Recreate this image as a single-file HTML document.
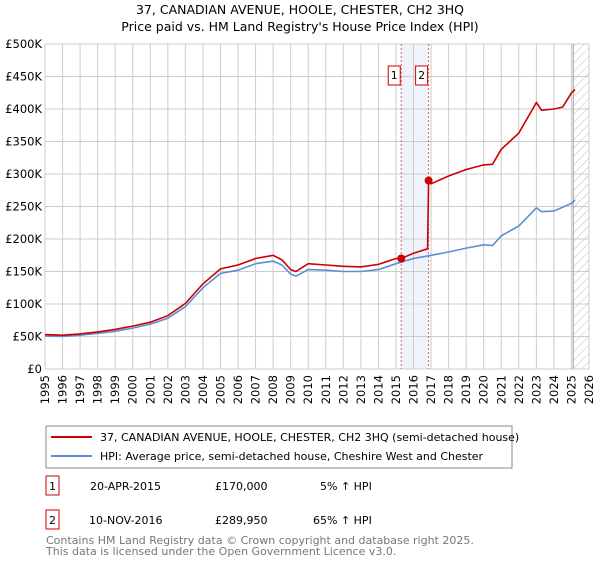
<!DOCTYPE html>
<html><head><meta charset="utf-8"><style>
body{margin:0;background:#fff;font-family:"Liberation Sans","DejaVu Sans",sans-serif}
svg text{font-family:"DejaVu Sans","Liberation Sans",sans-serif}
</style></head><body>
<svg id="c" width="600" height="560" xmlns="http://www.w3.org/2000/svg">
<text x="300" y="14" text-anchor="middle" font-size="12.5">37, CANADIAN AVENUE, HOOLE, CHESTER, CH2 3HQ</text>
<text x="300" y="31" text-anchor="middle" font-size="12.5">Price paid vs. HM Land Registry's House Price Index (HPI)</text>
<g id="grid"></g><g id="marks"></g>
<rect x="46" y="426" width="466" height="42" fill="#fff" stroke="#888"/>
<line x1="51" y1="437" x2="92" y2="437" stroke="#cc0000" stroke-width="2"/>
<text x="100" y="441" font-size="11">37, CANADIAN AVENUE, HOOLE, CHESTER, CH2 3HQ (semi-detached house)</text>
<line x1="51" y1="456" x2="92" y2="456" stroke="#5b8fd4" stroke-width="2"/>
<text x="100" y="460" font-size="11">HPI: Average price, semi-detached house, Cheshire West and Chester</text>
<g font-size="11">
<rect x="46" y="476" width="13" height="19" fill="#fff" stroke="#cc0000"/>
<text x="52.5" y="490" text-anchor="middle">1</text>
<text x="90" y="490">20-APR-2015</text>
<text x="215" y="490">£170,000</text>
<text x="320" y="490">5% ↑ HPI</text>
<rect x="46" y="510" width="13" height="19" fill="#fff" stroke="#cc0000"/>
<text x="52.5" y="524" text-anchor="middle">2</text>
<text x="89" y="524">10-NOV-2016</text>
<text x="215" y="524">£289,950</text>
<text x="313" y="524">65% ↑ HPI</text>
</g>
<text x="46" y="544" font-size="11" fill="#777">Contains HM Land Registry data © Crown copyright and database right 2025.</text>
<text x="46" y="555" font-size="11" fill="#777">This data is licensed under the Open Government Licence v3.0.</text>
</svg>
<script>
const yTicks=[0,50,100,150,200,250,300,350,400,450,500];
const yTickLabels=["£0","£50K","£100K","£150K","£200K","£250K","£300K","£350K","£400K","£450K","£500K"];
const xYears=[1995,1996,1997,1998,1999,2000,2001,2002,2003,2004,2005,2006,2007,2008,2009,2010,2011,2012,2013,2014,2015,2016,2017,2018,2019,2020,2021,2022,2023,2024,2025,2026];
const hpiT=[1995,1996,1997,1998,1999,2000,2001,2002,2003,2004,2005,2006,2007,2008,2008.5,2009,2009.3,2010,2011,2012,2013,2014,2015,2016,2017,2018,2019,2020,2020.5,2021,2022,2023,2023.3,2024,2025,2025.2];
const hpiV=[51,50,52,55,58,63,69,78,96,125,147,152,162,166,160,146,143,153,152,150,150,153,162,170,175,180,186,191,190,205,220,248,242,243,255,260];
const redT=[1995,1996,1997,1998,1999,2000,2001,2002,2003,2004,2005,2006,2007,2008,2008.5,2009,2009.3,2010,2011,2012,2013,2014,2015,2015.3,2016,2016.8,2016.86,2017,2018,2019,2020,2020.5,2021,2022,2023,2023.3,2024,2024.5,2025,2025.2];
const redV=[53,52,54,57,61,66,72,82,101,131,154,160,170,175,168,153,150,162,160,158,157,161,170,170,178,185,289.95,285,297,307,314,315,338,363,410,398,400,403,425,430];
const saleT=[2015.3,2016.86];
const saleV=[170,289.95];
const saleLabels=["1","2"];
const X0=45,X1=589,Y0=369,Y1=44;
const xs=t=>X0+(t-1995)/(2026-1995)*(X1-X0);
const ys=v=>Y0-v/500*(Y0-Y1);
const NS="http://www.w3.org/2000/svg";
const g=document.getElementById('grid'),m=document.getElementById('marks');
function mk(p,tag,a){const e=document.createElementNS(NS,tag);for(const k in a)e.setAttribute(k,a[k]);p.appendChild(e);return e;}
// highlight band
let band=mk(g,'rect',{x:xs(saleT[0]),y:Y1,width:xs(saleT[1])-xs(saleT[0]),height:Y0-Y1,fill:'#eef3fc'});


yTicks.forEach((v,i)=>{
 let l=mk(g,'line',{x1:X0,x2:X1,y1:ys(v),y2:ys(v),stroke:'#ccc'});
 
 
 let t=mk(g,'text',{x:X0-3,y:ys(v)+4,'text-anchor':'end','font-size':'11.5'});t.textContent=yTickLabels[i];
 
 
});
xYears.forEach(y=>{
 let l=mk(g,'line',{x1:xs(y),x2:xs(y),y1:Y1,y2:Y0,stroke:'#ccc'});
 
 
 let t=mk(g,'text',{x:0,y:0,'text-anchor':'end','font-size':'11.5',transform:`translate(${xs(y)+4},${Y0+6}) rotate(-90)`});t.textContent=y;
 
 
});
// hatch future
const defs=mk(g,'defs',{});const pat=mk(defs,'pattern',{id:'h',width:6,height:6,patternUnits:'userSpaceOnUse',patternTransform:'rotate(45)'});
mk(pat,'line',{x1:0,y1:0,x2:0,y2:6,stroke:'#bbb'});
let hr=mk(g,'rect',{x:xs(2025.1),y:Y1,width:X1-xs(2025.1),height:Y0-Y1,fill:'url(#h)',stroke:'#999'});


let ax=mk(g,'rect',{x:X0,y:Y1,width:X1-X0,height:Y0-Y1,fill:'none',stroke:'#ccc'});


saleT.forEach((t,i)=>{
 let l=mk(m,'line',{x1:xs(t),x2:xs(t),y1:Y1,y2:Y0,stroke:'#e06060','stroke-dasharray':'2,2'});
 
 
 let r=mk(m,'rect',{x:xs(t)-13,y:66,width:12,height:19,fill:'#fff',stroke:'#cc0000'});
 
 
 let tx=mk(m,'text',{x:xs(t)-7,y:79,'text-anchor':'middle','font-size':'11'});tx.textContent=saleLabels[i];
 
 
});
const pts=(T,V)=>T.map((t,i)=>xs(t).toFixed(1)+','+ys(V[i]).toFixed(1)).join(' ');
let hp=mk(m,'polyline',{points:pts(hpiT,hpiV),fill:'none',stroke:'#5b8fd4','stroke-width':1.6});


let rp=mk(m,'polyline',{points:pts(redT,redV),fill:'none',stroke:'#cc0000','stroke-width':1.6});


saleT.forEach((t,i)=>{
 let c=mk(m,'circle',{cx:xs(t),cy:ys(saleV[i]),r:4,fill:'#cc0000'});
 
 
});
</script>
</body></html>
